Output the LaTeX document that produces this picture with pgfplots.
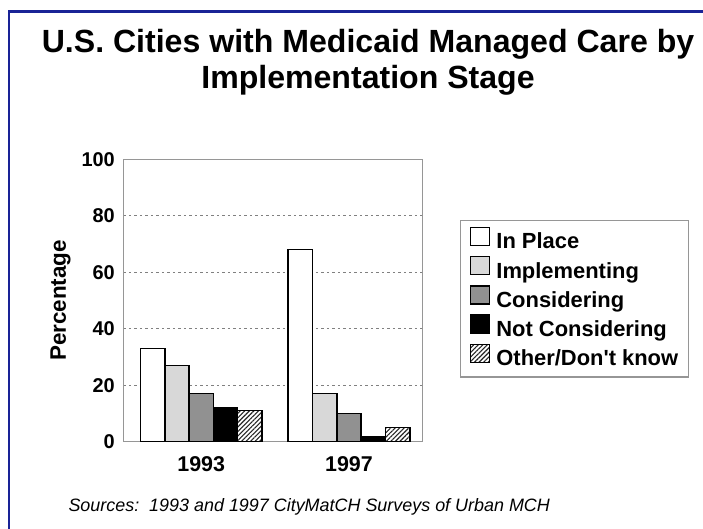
\documentclass[border=0pt]{standalone}
\usepackage{pgfplots}
\pgfplotsset{compat=1.18}
\usetikzlibrary{patterns,patterns.meta}
\usepackage{fontspec}
\setmainfont{Liberation Sans}
\definecolor{frameblue}{RGB}{25,35,150}
\definecolor{implgray}{RGB}{216,216,216}
\definecolor{consgray}{RGB}{145,145,145}
\definecolor{axgray}{RGB}{150,150,150}
\begin{document}
\begin{tikzpicture}
\useasboundingbox[fill=white] (0bp,0bp) rectangle (703bp,529bp);
\draw[frameblue, line width=2.2bp] (9bp,0bp) -- (9bp,517.5bp) -- (703bp,517.5bp);
\node[anchor=base, font=\bfseries\fontsize{32.2}{32.2}\selectfont] at (368bp,476bp) {U.S. Cities with Medicaid Managed Care by};
\node[anchor=base, font=\bfseries\fontsize{32.2}{32.2}\selectfont] at (368bp,440bp) {Implementation Stage};
\node[anchor=base west, font=\itshape\fontsize{18}{18}\selectfont] at (65bp,18bp) {Sources:\ \ 1993 and 1997 CityMatCH Surveys of Urban MCH};
\begin{axis}[
  at={(123.3bp,87.3bp)}, anchor=south west,
  width=299.4bp, height=282.4bp, scale only axis,
  xmin=-0.527, xmax=1.499, ymin=0, ymax=100,
  ybar=0pt, bar width=24.3bp,
  xtick={0,1}, xticklabels={1993,1997},
  ytick={0,20,40,60,80,100},
  major tick length=0pt,
  axis line style={axgray, line width=1.3bp},
  ymajorgrids, grid style={gray, dash pattern=on 2.5bp off 3bp, line width=0.8bp},
  /pgf/number format/assume math mode=true,
  ticklabel style={font=\bfseries\fontsize{20}{20}\selectfont},
  xticklabel style={yshift=-11bp, font=\bfseries\fontsize{21.5}{21.5}\selectfont},
  yticklabel style={xshift=-5bp},
  ylabel={Percentage},
  ylabel style={font=\bfseries\fontsize{22.5}{22.5}\selectfont, yshift=4bp},
  legend style={at={(1.1246,0.785)}, anchor=north west, draw=axgray, line width=1.3bp,
    font=\bfseries\fontsize{22}{22}\selectfont, row sep=2bp,
    inner xsep=9bp, inner ysep=6bp,
    nodes={inner sep=1bp, text height=15bp, text depth=4bp}},
  legend cell align=left,
  legend image code/.code={\draw[#1, line width=1.5bp] (0bp,-2bp) rectangle (19bp,16bp);
    \path[draw=none, fill=none] (0bp,7bp) -- (25bp,7bp);},
  every axis plot/.append style={draw=black, line width=1.6bp},
]
\addplot[fill=white] coordinates {(0,33) (1,68)};
\addplot[fill=implgray] coordinates {(0,27) (1,17)};
\addplot[fill=consgray] coordinates {(0,17) (1,10)};
\addplot[fill=black] coordinates {(0,12) (1,1.8)};
\addplot[pattern={Lines[angle=45, distance=3.2bp, line width=1.1bp]}, pattern color=black!85, draw=black] coordinates {(0,11) (1,5)};
\legend{In Place, Implementing, Considering, Not Considering, Other/Don\textquotesingle t know}
\end{axis}
\end{tikzpicture}
\end{document}
